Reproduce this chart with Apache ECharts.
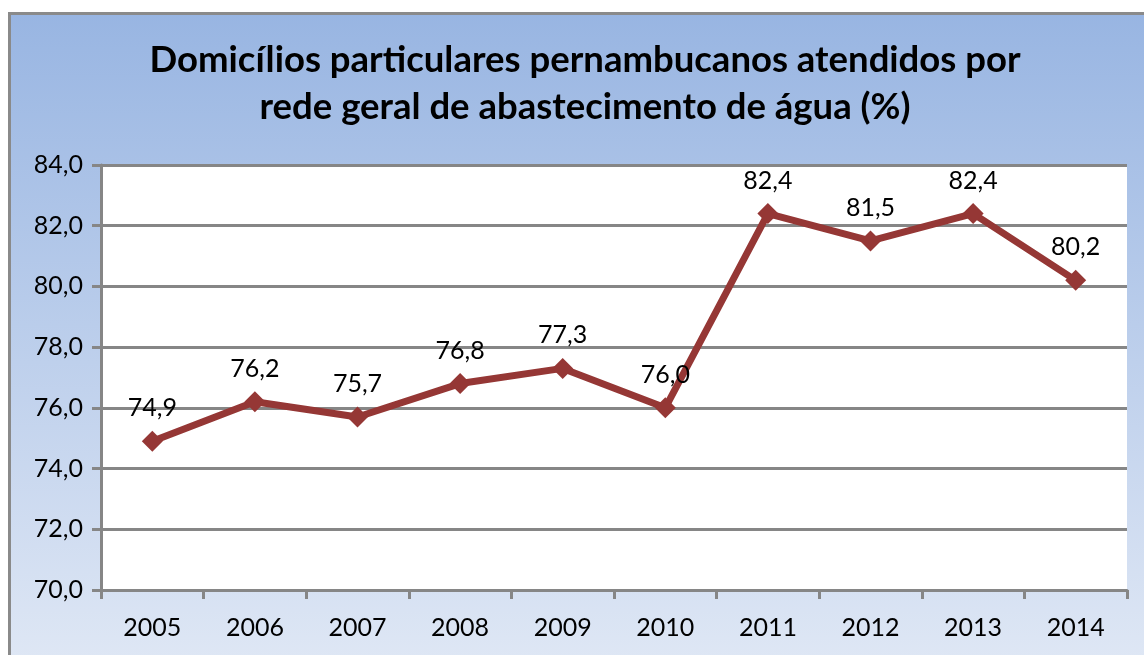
<!DOCTYPE html>
<html>
<head>
<meta charset="utf-8">
<title>Abastecimento de água</title>
<script src="https://cdn.jsdelivr.net/npm/echarts@6/dist/echarts.min.js"></script>
<style>
  html, body { margin: 0; padding: 0; background: #fff; }
</style>
</head>
<body>
	<div id="main" style="width: 1144px; height: 655px;"></div>

	<script type="text/javascript">
		// dados do gráfico
		var anos = ['2005', '2006', '2007', '2008', '2009', '2010', '2011', '2012', '2013', '2014'];
		var atendidos = [74.9, 76.2, 75.7, 76.8, 77.3, 76.0, 82.4, 81.5, 82.4, 80.2];
		var eixoMin = 70, eixoMax = 84, eixoPasso = 2;

		function virgula(v) {
		    return Number(v).toFixed(1).replace('.', ',');
		}

		var myChart = echarts.init(document.getElementById('main'));

		var option = {
		    animation: false,
		    textStyle: { fontFamily: 'Lato' },
		    graphic: [{
		        type: 'rect',
		        z: -10,
		        silent: true,
		        shape: { x: 9.5, y: 13.5, width: 1150, height: 660 },
		        style: {
		            fill: new echarts.graphic.LinearGradient(0, 0, 0, 1, [
		                { offset: 0, color: '#98b5e2' },
		                { offset: 1, color: '#e0e8f5' }
		            ]),
		            stroke: '#8a8a8a',
		            lineWidth: 3
		        }
		    }],
		    title: {
		        text: 'Domicílios particulares pernambucanos atendidos por\nrede geral de abastecimento de água (%)',
		        left: 580,
		        textAlign: 'center',
		        top: 32,
		        textStyle: {
		            fontFamily: 'Lato',
		            fontWeight: 'bold',
		            fontSize: 36.5,
		            lineHeight: 47,
		            color: '#000'
		        }
		    },
		    grid: {
		        left: 101,
		        right: 17,
		        top: 165,
		        bottom: 65,
		        show: true,
		        backgroundColor: '#fff',
		        borderWidth: 0
		    },
		    xAxis: {
		        type: 'category',
		        data: anos,
		        boundaryGap: true,
		        axisLine: { lineStyle: { color: '#868686', width: 3 } },
		        axisTick: { show: true, length: 9, lineStyle: { color: '#868686', width: 3 } },
		        axisLabel: { fontSize: 25, color: '#000', margin: 25 }
		    },
		    yAxis: {
		        type: 'value',
		        min: eixoMin,
		        max: eixoMax,
		        interval: eixoPasso,
		        axisLine: { show: true, lineStyle: { color: '#868686', width: 3 } },
		        axisTick: { show: true, length: 9, lineStyle: { color: '#868686', width: 3 } },
		        axisLabel: { fontSize: 25, color: '#000', margin: 18, formatter: virgula },
		        splitLine: { lineStyle: { color: '#868686', width: 3 } }
		    },
		    series: [{
		        name: 'Atendidos',
		        type: 'line',
		        data: atendidos,
		        symbol: 'diamond',
		        symbolSize: 21,
		        itemStyle: { color: '#953735' },
		        lineStyle: { color: '#953735', width: 7 },
		        label: {
		            show: true,
		            position: 'top',
		            distance: 10,
		            fontSize: 25,
		            color: '#000',
		            formatter: function (p) { return virgula(p.value); }
		        }
		    }]
		};

		myChart.setOption(option);
	</script>
</body>
</html>
